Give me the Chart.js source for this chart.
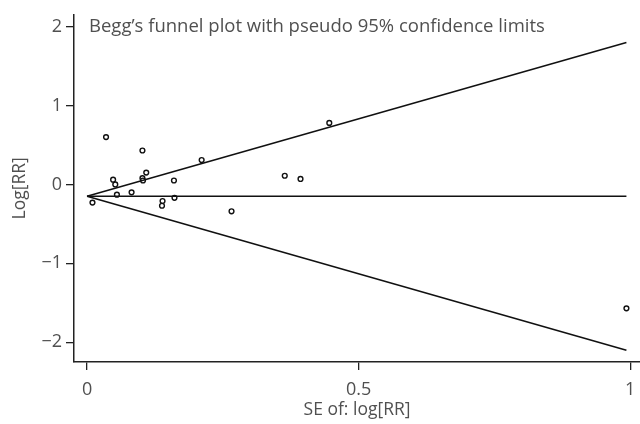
<!DOCTYPE html>
<html>
<head>
<meta charset="utf-8">
<script src="https://cdn.jsdelivr.net/npm/chart.js@4"></script>
<style>
  html, body { margin: 0; padding: 0; background: #fff; }
  #wrap { width: 640px; height: 424px; position: relative; }
</style>
</head>
<body>
<div id="wrap"><canvas id="funnelChart"></canvas></div>
<script>
// Studi: errore standard e log[RR]
const studySE = [0.035, 0.102, 0.109, 0.102, 0.103, 0.048, 0.052, 0.055, 0.082, 0.010,
                 0.160, 0.161, 0.139, 0.138, 0.211, 0.266, 0.364, 0.393, 0.446, 0.993];
const studyLogRR = [0.60, 0.43, 0.15, 0.08, 0.05, 0.06, 0.00, -0.13, -0.10, -0.23,
                    0.05, -0.17, -0.21, -0.27, 0.31, -0.34, 0.11, 0.07, 0.78, -1.57];

// Limiti pseudo 95% (estremi)
const limitSE = [0, 0.993];
const upperLimit = [-0.15, 1.80];
const pooledLine = [-0.15, -0.15];
const lowerLimit = [-0.15, -2.10];

const xTicks = [0, 0.5, 1];
const yTicks = [-2, -1, 0, 1, 2];

const titleText = 'Begg\u2019s funnel plot with pseudo 95% confidence limits';
const textColor = '#505050';
const fontFamily = '"Open Sans", "Noto Sans", sans-serif';

function toPoints(xs, ys) {
  return xs.map((x, i) => ({ x: x, y: ys[i] }));
}

function lineSet(ys) {
  return {
    type: 'line',
    data: toPoints(limitSE, ys),
    borderColor: '#111',
    borderWidth: 1.6,
    pointRadius: 0,
    fill: false
  };
}

// Titolo dentro l'area del grafico
const innerTitle = {
  id: 'innerTitle',
  afterDraw(chart) {
    const c = chart.ctx;
    c.save();
    c.fillStyle = textColor;
    c.font = '18.5px ' + fontFamily;
    c.textBaseline = 'middle';
    c.fillText(titleText, chart.chartArea.left + 15, 27);
    c.restore();
  }
};

const ctx = document.getElementById('funnelChart').getContext('2d');

new Chart(ctx, {
  type: 'scatter',
  data: {
    datasets: [
      lineSet(upperLimit),
      lineSet(pooledLine),
      lineSet(lowerLimit),
      {
        data: toPoints(studySE, studyLogRR),
        pointStyle: 'circle',
        pointRadius: 2.4,
        pointBorderWidth: 1.4,
        pointBorderColor: '#111',
        pointBackgroundColor: '#fff',
        showLine: false
      }
    ]
  },
  plugins: [innerTitle],
  options: {
    responsive: true,
    maintainAspectRatio: false,
    animation: false,
    layout: { autoPadding: false, padding: { top: 13, right: 0, left: 0, bottom: 0 } },
    plugins: {
      legend: { display: false },
      tooltip: { enabled: false }
    },
    scales: {
      x: {
        type: 'linear',
        min: -0.024,
        max: 1.018,
        afterBuildTicks(scale) { scale.ticks = xTicks.map(v => ({ value: v })); },
        afterFit(scale) {
          scale.height = 62;
          scale.paddingLeft = 0;
          scale.paddingRight = 0;
        },
        grid: { drawOnChartArea: false, drawTicks: true, tickLength: 8, color: '#222', lineWidth: 1.3 },
        border: { display: true, color: '#222', width: 1.5 },
        ticks: {
          color: textColor,
          font: { family: fontFamily, size: 18 },
          padding: 9,
          maxRotation: 0,
          callback: v => String(v)
        },
        title: {
          display: true,
          text: 'SE of: log[RR]',
          color: textColor,
          font: { family: fontFamily, size: 17.5 },
          padding: { top: 0, bottom: 3 }
        }
      },
      y: {
        type: 'linear',
        min: -2.25,
        max: 2.15,
        afterBuildTicks(scale) { scale.ticks = yTicks.map(v => ({ value: v })); },
        afterFit(scale) { scale.width = 74; },
        grid: { drawOnChartArea: false, drawTicks: true, tickLength: 8, color: '#222', lineWidth: 1.3 },
        border: { display: true, color: '#222', width: 1.5 },
        ticks: {
          color: textColor,
          font: { family: fontFamily, size: 18 },
          padding: 4,
          callback: v => String(v).replace('-', '\u2212')
        },
        title: {
          display: true,
          text: 'Log[RR]',
          color: textColor,
          font: { family: fontFamily, size: 17.5 },
          padding: { top: 10, bottom: 0 }
        }
      }
    }
  }
});
</script>
</body>
</html>
